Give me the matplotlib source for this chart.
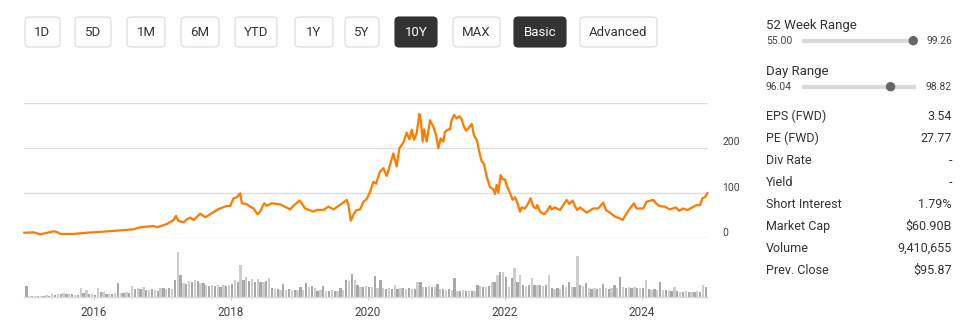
import matplotlib
matplotlib.use('agg')
import matplotlib.pyplot as plt
from matplotlib.patches import FancyBboxPatch, Circle
import numpy as np

plt.rcParams['font.family'] = ['Roboto', 'DejaVu Sans']

# Price line (decimal year, price).
price_years = [
    2014.989, 2015.126, 2015.223, 2015.417, 2015.466, 2015.515, 2015.709, 2015.904,
    2016.147, 2016.390, 2016.584, 2016.682, 2016.876, 2016.925, 2017.071, 2017.168,
    2017.202, 2017.241, 2017.314, 2017.362, 2017.411, 2017.460, 2017.557, 2017.630,
    2017.703, 2017.800, 2017.849, 2017.946, 2017.994, 2018.043, 2018.092, 2018.140,
    2018.165, 2018.238,
    2018.286, 2018.335, 2018.393, 2018.432, 2018.490, 2018.529, 2018.602, 2018.724,
    2018.870, 2018.918, 2019.006, 2019.040, 2019.088, 2019.210, 2019.259, 2019.356,
    2019.429, 2019.502, 2019.599, 2019.696, 2019.720, 2019.755, 2019.793, 2019.832,
    2019.891, 2019.939, 2019.988, 2020.037, 2020.085, 2020.124, 2020.182, 2020.231,
    2020.280, 2020.328, 2020.377, 2020.425, 2020.464, 2020.523, 2020.571, 2020.610,
    2020.644, 2020.678, 2020.717, 2020.756, 2020.776, 2020.805, 2020.824, 2020.863,
    2020.912, 2020.960, 2020.999, 2021.033, 2021.067, 2021.106, 2021.130, 2021.179,
    2021.203, 2021.228, 2021.262, 2021.301, 2021.340, 2021.374, 2021.398, 2021.437,
    2021.471, 2021.520, 2021.554, 2021.593,
    2021.641, 2021.665, 2021.699, 2021.738, 2021.787, 2021.836, 2021.860, 2021.884,
    2021.908, 2021.942, 2021.972, 2022.006, 2022.040, 2022.079, 2022.118, 2022.152,
    2022.186, 2022.225, 2022.249, 2022.297, 2022.346, 2022.380, 2022.419, 2022.458,
    2022.477, 2022.516, 2022.575, 2022.614, 2022.662, 2022.686, 2022.735, 2022.808,
    2022.905, 2022.944, 2022.993, 2023.027, 2023.061, 2023.100, 2023.197, 2023.294,
    2023.367, 2023.440, 2023.479, 2023.537, 2023.610, 2023.683, 2023.722, 2023.781,
    2023.829, 2023.888, 2023.926, 2024.024, 2024.072, 2024.170, 2024.218, 2024.267,
    2024.340, 2024.413, 2024.500, 2024.549, 2024.607, 2024.666, 2024.729, 2024.802,
    2024.850, 2024.889, 2024.923, 2024.962,
]
price_values = [
    12.4, 13.2, 8.8, 15.5, 14.0, 9.6, 9.6, 12.4,
    14.7, 17.7, 19.9, 24.4, 27.3, 24.4, 31.7, 40.5,
    49.4, 38.3, 35.4, 42.1, 45.7, 40.5, 54.5, 46.5,
    53.2, 62.7, 66.4, 71.6, 71.0, 88.6, 90.9, 99.7,
    77.5, 75.3,
    70, 66, 53, 59, 77.5, 72, 77.5, 75,
    64, 72, 83.4, 77, 66, 59, 63, 63,
    70, 64, 74, 84.9, 74, 39, 52, 62,
    64, 81, 87, 103, 125, 121, 147.6, 155,
    138, 163, 188, 159, 199, 212, 234, 219,
    240, 218, 233, 275, 262, 214, 241, 214,
    261, 247, 229, 199, 221, 214, 236, 241,
    241, 262, 273, 265, 270, 263, 250, 238,
    243, 253, 227, 218,
    184.6, 170, 164.6, 136.6, 113, 108.5, 98, 118,
    101, 140, 130.5, 130, 113, 100, 85, 90.9,
    79, 59, 68.4, 66, 77.5, 88.6, 69.9, 66,
    73.5, 59, 53, 59, 71.2, 64, 68.4, 62.4,
    85, 76, 83.4, 71, 62.4, 68.4, 56.8, 66,
    66, 79, 62.4, 56.8, 48, 44, 40.5, 55,
    66, 77.5, 66, 66, 81, 85, 76, 71,
    70, 64, 68.4, 60.9, 66, 62.4, 67.6, 73.5,
    73, 88.6, 90.9, 99.7,
]
assert len(price_years) == len(price_values)

# Half-month volume (arbitrary units), one row per year 2015..2024.
volume_2015 = [33, 2, 2, 3, 2, 3, 3, 4, 3, 8, 6, 8, 7, 12, 9, 8, 7, 6, 5, 27, 10, 20, 8, 7]
volume_2016 = [5, 27, 15, 14, 9, 8, 7, 10, 40, 12, 11, 13, 12, 33, 22, 26, 24, 28, 20, 19, 22, 20, 18, 25]
volume_2017 = [25, 22, 26, 24, 50, 133, 65, 40, 38, 48, 45, 50, 47, 40, 42, 35, 33, 36, 32, 35, 30, 36, 33, 35]
volume_2018 = [38, 50, 45, 95, 50, 60, 48, 52, 45, 52, 45, 44, 48, 55, 25, 22, 24, 20, 38, 20, 22, 19, 21, 20]
volume_2019 = [30, 20, 42, 28, 33, 25, 18, 20, 33, 18, 17, 19, 18, 16, 25, 20, 50, 48, 68, 50, 35, 30, 28, 32]
volume_2020 = [30, 28, 63, 25, 50, 26, 24, 25, 22, 35, 24, 25, 26, 23, 25, 24, 22, 45, 44, 30, 28, 32, 29, 30]
volume_2021 = [38, 22, 24, 20, 22, 21, 57, 18, 17, 19, 16, 18, 17, 18, 35, 33, 30, 28, 32, 45, 44, 65, 75, 74]
volume_2022 = [60, 30, 55, 87, 45, 65, 35, 33, 36, 55, 35, 34, 36, 33, 35, 65, 25, 24, 26, 23, 35, 28, 45, 30]
volume_2023 = [30, 123, 35, 32, 40, 25, 24, 26, 23, 25, 38, 25, 24, 26, 35, 25, 60, 28, 26, 30, 25, 28, 27, 26]
volume_2024 = [25, 50, 22, 21, 23, 20, 45, 20, 19, 21, 18, 28, 17, 15, 14, 16, 15, 14, 15, 16, 14, 35, 30]

year_ticks = [2016, 2018, 2020, 2022, 2024]
price_ticks = [0, 100, 200]
price_grid = [0, 100, 200, 300]

range_buttons = ['1D', '5D', '1M', '6M', 'YTD', '1Y', '5Y', '10Y', 'MAX', 'Basic', 'Advanced']
selected_buttons = ['10Y', 'Basic']

week52_low, week52_high = 55.00, 99.26
day_low, day_high = 96.04, 98.82
last_price = 98.2

stat_labels = ['EPS (FWD)', 'PE (FWD)', 'Div Rate', 'Yield', 'Short Interest',
               'Market Cap', 'Volume', 'Prev. Close']
stat_values = ['3.54', '27.77', '-', '-', '1.79%', '$60.90B', '9,410,655', '$95.87']

orange = '#ff7b00'
W, H = 962, 326
fig = plt.figure(figsize=(W / 100, H / 100), dpi=100)


def rect(x0, y0, x1, y1):
    # pixel box (top-left origin) -> figure fraction
    return [x0 / W, 1 - y1 / H, (x1 - x0) / W, (y1 - y0) / H]


# UI overlay in pixel units
ui = fig.add_axes([0, 0, 1, 1])
ui.set_xlim(0, W)
ui.set_ylim(H, 0)
ui.axis('off')

btn_x0 = [25, 75, 127, 181, 235, 295, 345, 395, 453, 514, 580]
btn_x1 = [60, 111, 165, 219, 277, 333, 379, 437, 500, 566, 657]
for lab, x0, x1 in zip(range_buttons, btn_x0, btn_x1):
    sel = lab in selected_buttons
    ui.add_patch(FancyBboxPatch((x0, 17), x1 - x0, 30,
                                boxstyle='round,pad=0,rounding_size=4',
                                fc='#333333' if sel else 'white',
                                ec='#333333' if sel else '#d9d9d9', lw=0.8))
    ui.text((x0 + x1) / 2, 32.5, lab, ha='center', va='center', fontsize=9.5,
            color='white' if sel else '#333333')

# range sliders
bar_x0, bar_x1 = 802, 916
for title, ty, lo, hi, by in [('52 Week Range', 25, week52_low, week52_high, 40.7),
                              ('Day Range', 71, day_low, day_high, 86.7)]:
    ui.text(766, ty, title, ha='left', va='center', fontsize=9.5, color='#333333')
    ui.text(766, by, f'{lo:.2f}', ha='left', va='center', fontsize=7.5, color='#444444')
    ui.text(952, by, f'{hi:.2f}', ha='right', va='center', fontsize=7.5, color='#444444')
    ui.plot([bar_x0, bar_x1], [by, by], color='#d9d9d9', lw=3, solid_capstyle='butt')
    dot_x = bar_x0 + (last_price - lo) / (hi - lo) * (bar_x1 - bar_x0)
    ui.add_patch(Circle((dot_x, by), 4, color='#666666', zorder=3))

for i, (lab, val) in enumerate(zip(stat_labels, stat_values)):
    y = 116.7 + i * 22
    ui.text(766, y, lab, ha='left', va='center', fontsize=9, color='#333333')
    ui.text(952, y, val, ha='right', va='center', fontsize=9, color='#333333')

x_start, x_end = 2014.985, 2024.965

# price panel
ax = fig.add_axes(rect(24, 102.7, 707.7, 238.3))
ax.set_facecolor('none')
for v in price_grid:
    ax.axhline(v, color='#dddddd', lw=1, zorder=1)
ax.plot(price_years, price_values, color=orange, lw=1.6, solid_joinstyle='round',
        zorder=3, clip_on=False)
ax.set_xlim(x_start, x_end)
ax.set_ylim(0, 300)
for s in ax.spines.values():
    s.set_visible(False)
ax.set_xticks([])
ax.set_yticks([])
for v in price_ticks:
    ax.annotate(str(v), xy=(1, v), xycoords=('axes fraction', 'data'),
                xytext=(14.5, 5.5), textcoords='offset pixels',
                ha='left', va='center', fontsize=7.5, color='#444444')

# volume panel
volume = (volume_2015 + volume_2016 + volume_2017 + volume_2018 + volume_2019 +
          volume_2020 + volume_2021 + volume_2022 + volume_2023 + volume_2024)
vol_x = 2015 + (np.arange(len(volume)) + 0.5) / 24
vol_colors = ['#a8a8a8' if i % 2 == 0 else '#cdcdcd' for i in range(len(volume))]

axv = fig.add_axes(rect(24, 250, 707.7, 296.7))
axv.set_facecolor('none')
axv.bar(vol_x, volume, width=0.8 / 24, color=vol_colors, lw=0)
axv.set_xlim(x_start, x_end)
axv.set_ylim(0, 140)
for k in ['top', 'left', 'right']:
    axv.spines[k].set_visible(False)
axv.spines['bottom'].set_color('#d9d9d9')
axv.spines['bottom'].set_linewidth(1)
axv.set_yticks([])
axv.set_xticks(year_ticks)
axv.set_xticklabels([str(y) for y in year_ticks])
axv.tick_params(axis='x', length=2.5, width=0.8, color='#cccccc', pad=4,
                labelsize=8.5, labelcolor='#444444')

fig.savefig('out.png', dpi=100, facecolor='white')
